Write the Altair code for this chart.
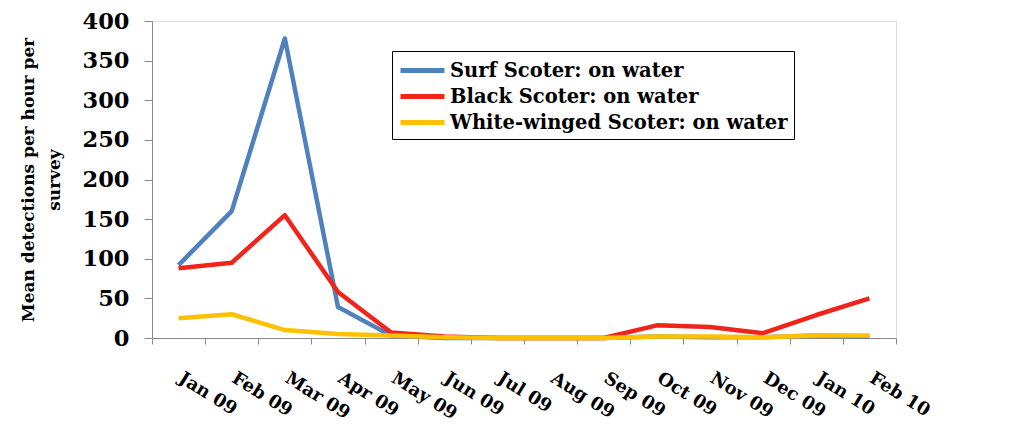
import altair as alt
import pandas as pd

months = ["Jan 09", "Feb 09", "Mar 09", "Apr 09", "May 09", "Jun 09", "Jul 09",
          "Aug 09", "Sep 09", "Oct 09", "Nov 09", "Dec 09", "Jan 10", "Feb 10"]
surf = [92, 160, 378, 39, 3, 0, 0, 0, 0, 2, 1, 1, 3, 2]
black = [88, 95, 155, 58, 7, 2, 0, 0, 0, 16, 14, 6, 29, 50]
white = [25, 30, 10, 5, 3, 1, 0, 0, 0, 2, 2, 1, 3, 3]
series = ["Surf Scoter: on water", "Black Scoter: on water", "White-winged Scoter: on water"]
colors = ["#4F81BD", "#F2231B", "#FFC000"]

rows = []
for name, vals in zip(series, [surf, black, white]):
    for m, v in zip(months, vals):
        rows.append({"month": m, "value": v, "series": name})
df = pd.DataFrame(rows)

FONT = "DejaVu Serif"

chart = alt.Chart(df).mark_line(strokeWidth=4.5, strokeJoin="round").encode(
    x=alt.X("month:N", sort=months, scale=alt.Scale(paddingInner=0, paddingOuter=0),
            axis=alt.Axis(title=None, tickBand="extent", labelAngle=32, labelAlign="left",
                          labelBaseline="top", labelPadding=25, labelOffset=6, labelFont=FONT,
                          labelFontWeight="bold", labelFontSize=18, labelColor="black",
                          domainColor="#888888", tickColor="#888888", tickSize=6,
                          labelOverlap=False)),
    y=alt.Y("value:Q", scale=alt.Scale(domain=[0, 400], nice=False),
            axis=alt.Axis(values=list(range(0, 401, 50)), grid=False,
                          title=["Mean detections per hour per", "survey"],
                          titleFont=FONT, titleFontWeight="bold", titleFontSize=17,
                          titleColor="black", titleLineHeight=26, titlePadding=19,
                          labelFont=FONT, labelFontWeight="bold", labelFontSize=22.5,
                          labelColor="black", labelPadding=15,
                          domainColor="#888888", tickColor="#888888", tickSize=8)),
    color=alt.Color("series:N", sort=series,
                    scale=alt.Scale(domain=series, range=colors),
                    legend=alt.Legend(title=None, orient="none", legendX=240, legendY=30,
                                      symbolType="M-1,0H3", symbolSize=484,
                                      symbolStrokeWidth=5, labelFont=FONT,
                                      labelFontWeight="bold", labelFontSize=19.5,
                                      labelColor="black", labelOffset=25, rowPadding=2,
                                      padding=6, strokeColor="black", fillColor="white",
                                      labelLimit=500)),
    order=alt.Order("series:N"),
).properties(
    width=744, height=317,
    autosize=alt.AutoSizeParams(type="none"),
    padding={"left": 144, "top": 13, "right": 118, "bottom": 94},
).configure_view(stroke=None).configure(background="white")

chart.save("out.html", embed_options={"renderer": "svg", "actions": False})
